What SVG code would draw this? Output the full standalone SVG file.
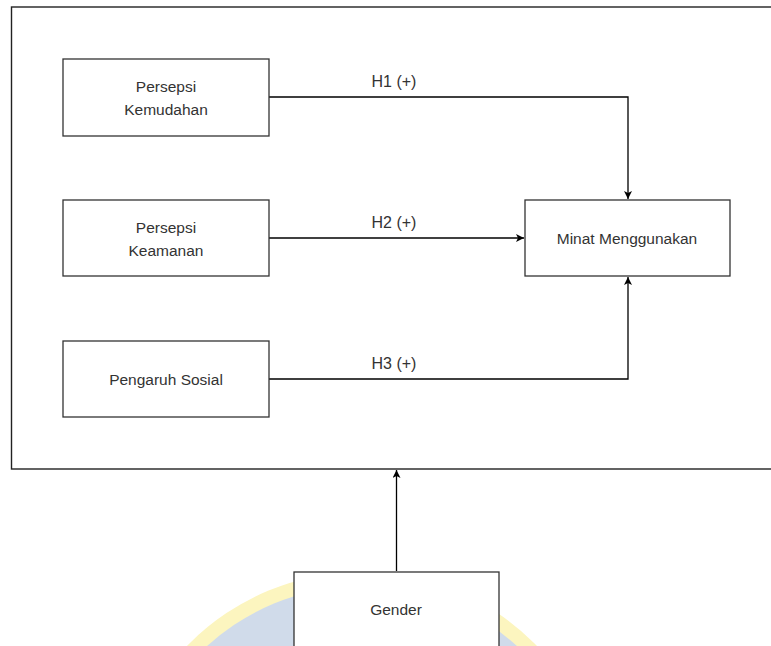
<svg xmlns="http://www.w3.org/2000/svg" width="771" height="646" viewBox="0 0 771 646">
<style>
.node rect{fill:#ffffff;stroke:#333333;stroke-width:1.3}
.t{font-family:"Liberation Sans",Arial,sans-serif;font-size:15.5px;fill:#333333;text-anchor:middle}
.lbl{font-family:"Liberation Sans",Arial,sans-serif;font-size:16px;fill:#333333;text-anchor:middle}
.edge{fill:none;stroke:#000000;stroke-width:1.3}
</style>
<defs>
<marker id="ah" viewBox="0 0 10 10" refX="10" refY="5" markerWidth="8" markerHeight="8" markerUnits="userSpaceOnUse" orient="auto">
<path d="M0,0 L10,5 L0,10 L2.5,5 Z" fill="#000000"/>
</marker>
</defs>
<rect width="771" height="646" fill="#ffffff"/>
<g id="watermark">
<circle cx="362" cy="816" r="244" fill="#fcf5bf"/>
<circle cx="362" cy="816" r="230" fill="#d0dbea"/>
</g>
<g id="frame">
<rect x="11.5" y="7" width="780" height="462" fill="#ffffff" stroke="#222222" stroke-width="1.4"/>
</g>
<g id="connectors">
<path class="edge" d="M269,97 H628 V199" marker-end="url(#ah)"/>
<path class="edge" d="M269,238 H524" marker-end="url(#ah)"/>
<path class="edge" d="M269,379 H628 V277" marker-end="url(#ah)"/>
<path class="edge" d="M396.5,571 V470" marker-end="url(#ah)"/>
<text class="lbl" x="394" y="87">H1 (+)</text>
<text class="lbl" x="394" y="228">H2 (+)</text>
<text class="lbl" x="394" y="369">H3 (+)</text>
</g>
<g id="persepsi-kemudahan" class="node">
<rect x="63" y="59" width="206" height="77"/>
<text class="t" x="166" y="92">Persepsi</text>
<text class="t" x="166" y="115">Kemudahan</text>
</g>
<g id="persepsi-keamanan" class="node">
<rect x="63" y="200" width="206" height="76"/>
<text class="t" x="166" y="233">Persepsi</text>
<text class="t" x="166" y="256">Keamanan</text>
</g>
<g id="pengaruh-sosial" class="node">
<rect x="63" y="341" width="206" height="76"/>
<text class="t" x="166" y="385">Pengaruh Sosial</text>
</g>
<g id="minat-menggunakan" class="node">
<rect x="525" y="200" width="205" height="76"/>
<text class="t" x="627" y="244">Minat Menggunakan</text>
</g>
<g id="gender" class="node">
<rect x="294" y="572" width="205" height="90"/>
<text class="t" x="396" y="615">Gender</text>
</g>
</svg>
